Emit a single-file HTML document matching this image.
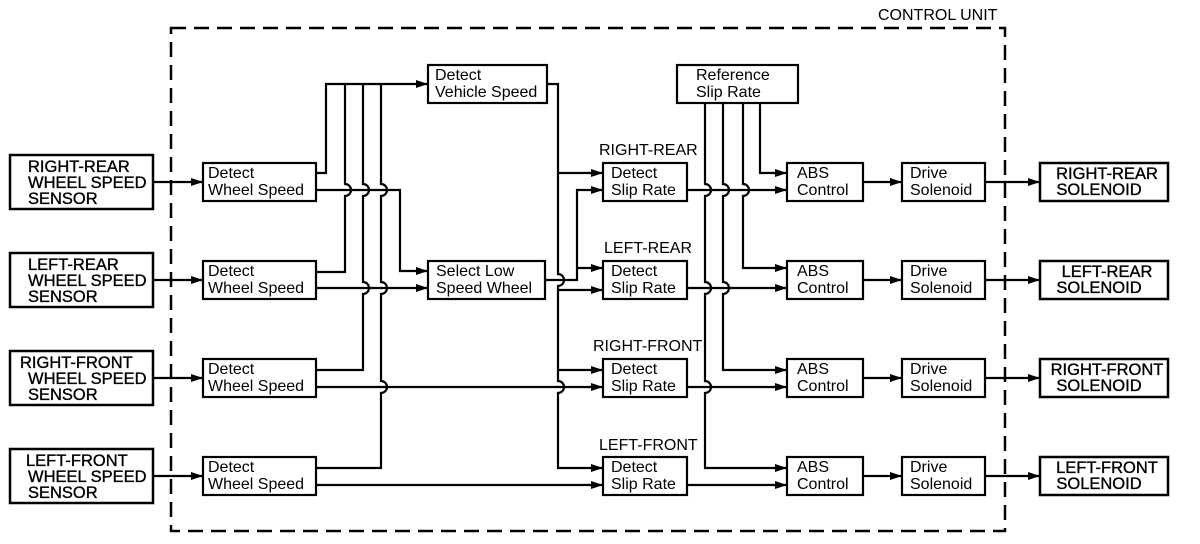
<!DOCTYPE html>
<html><head><meta charset="utf-8"><style>
html,body{margin:0;padding:0;background:#fff;}
svg{display:block;}
text{font-family:"Liberation Sans",sans-serif;font-size:16px;fill:#000;}
.s text{font-size:16.5px;stroke:#000;stroke-width:0.35;}
</style></head><body>
<svg width="1200" height="544" viewBox="0 0 1200 544" xmlns="http://www.w3.org/2000/svg">
<defs>
<marker id="a" markerWidth="12" markerHeight="8" refX="12" refY="4" orient="auto" markerUnits="userSpaceOnUse"><path d="M0,0 L12,4 L0,8 Z" fill="#000"/></marker>
</defs>
<g fill="none" stroke="#000" stroke-width="2.2">
<rect x="171" y="28" width="834" height="503" stroke-dasharray="15 8" stroke-width="2.5"/>
<rect x="10" y="155" width="143" height="54" stroke-width="2.5"/>
<rect x="10" y="253" width="143" height="54" stroke-width="2.5"/>
<rect x="10" y="351" width="143" height="54" stroke-width="2.5"/>
<rect x="10" y="449" width="143" height="54" stroke-width="2.5"/>
<rect x="203" y="163" width="113" height="38"/>
<rect x="203" y="261" width="113" height="38"/>
<rect x="203" y="359" width="113" height="38"/>
<rect x="203" y="457" width="113" height="38"/>
<rect x="428" y="65" width="119" height="38"/>
<rect x="428" y="261" width="117" height="38"/>
<rect x="677" y="65" width="121" height="38"/>
<rect x="603" y="163" width="84" height="38"/>
<rect x="603" y="261" width="84" height="38"/>
<rect x="603" y="359" width="84" height="38"/>
<rect x="603" y="457" width="84" height="38"/>
<rect x="787" y="163" width="76" height="38"/>
<rect x="787" y="261" width="76" height="38"/>
<rect x="787" y="359" width="76" height="38"/>
<rect x="787" y="457" width="76" height="38"/>
<rect x="902" y="163" width="83" height="38"/>
<rect x="902" y="261" width="83" height="38"/>
<rect x="902" y="359" width="83" height="38"/>
<rect x="902" y="457" width="83" height="38"/>
<rect x="1040" y="163" width="128" height="38" stroke-width="2.5"/>
<rect x="1040" y="261" width="128" height="38" stroke-width="2.5"/>
<rect x="1040" y="359" width="128" height="38" stroke-width="2.5"/>
<rect x="1040" y="457" width="128" height="38" stroke-width="2.5"/>

<path d="M153 182 H203" marker-end="url(#a)"/>
<path d="M153 280 H203" marker-end="url(#a)"/>
<path d="M153 378 H203" marker-end="url(#a)"/>
<path d="M153 476 H203" marker-end="url(#a)"/>

<path d="M316 173 H326 V84 H428" marker-end="url(#a)"/>
<path d="M316 272 H345 V196 A6 6 0 0 0 345 184 V84"/>
<path d="M316 370 H363 V294 A6 6 0 0 0 363 282 V196 A6 6 0 0 0 363 184 V84"/>
<path d="M316 468 H381 V393 A6 6 0 0 0 381 381 V294 A6 6 0 0 0 381 282 V196 A6 6 0 0 0 381 184 V84"/>
<path d="M316 190 H400 V271 H428" marker-end="url(#a)"/>
<path d="M316 288 H428" marker-end="url(#a)"/>
<path d="M316 387 H603" marker-end="url(#a)"/>
<path d="M316 485 H603" marker-end="url(#a)"/>

<path d="M547 84 H558 V274 A6 6 0 0 1 558 286 V381 A6 6 0 0 1 558 393 V468 H603" marker-end="url(#a)"/>
<path d="M558 173 H603" marker-end="url(#a)"/>
<path d="M558 290 H603" marker-end="url(#a)"/>
<path d="M558 370 H603" marker-end="url(#a)"/>
<path d="M545 280 H577 V190 H603" marker-end="url(#a)"/>
<path d="M577 268 H603" marker-end="url(#a)"/>

<path d="M705 103 V184 A6 6 0 0 1 705 196 V282 A6 6 0 0 1 705 294 V381 A6 6 0 0 1 705 393 V468 H787" marker-end="url(#a)"/>
<path d="M723 103 V184 A6 6 0 0 1 723 196 V282 A6 6 0 0 1 723 294 V370 H787" marker-end="url(#a)"/>
<path d="M743 103 V184 A6 6 0 0 1 743 196 V268 H787" marker-end="url(#a)"/>
<path d="M760 103 V173 H787" marker-end="url(#a)"/>
<path d="M687 190 H787" marker-end="url(#a)"/>
<path d="M687 288 H787" marker-end="url(#a)"/>
<path d="M687 387 H787" marker-end="url(#a)"/>
<path d="M687 485 H787" marker-end="url(#a)"/>

<path d="M863 182 H902" marker-end="url(#a)"/>
<path d="M863 280 H902" marker-end="url(#a)"/>
<path d="M863 378 H902" marker-end="url(#a)"/>
<path d="M863 476 H902" marker-end="url(#a)"/>
<path d="M985 182 H1040" marker-end="url(#a)"/>
<path d="M985 280 H1040" marker-end="url(#a)"/>
<path d="M985 378 H1040" marker-end="url(#a)"/>
<path d="M985 476 H1040" marker-end="url(#a)"/>
</g>

<text x="878" y="20">CONTROL UNIT</text>

<g class="s">
<text x="28" y="172">RIGHT-REAR</text><text x="28" y="188">WHEEL SPEED</text><text x="28" y="204">SENSOR</text>
<text x="28" y="270">LEFT-REAR</text><text x="28" y="286">WHEEL SPEED</text><text x="28" y="302">SENSOR</text>
<text x="20" y="368">RIGHT-FRONT</text><text x="28" y="384">WHEEL SPEED</text><text x="28" y="400">SENSOR</text>
<text x="26" y="466">LEFT-FRONT</text><text x="28" y="482">WHEEL SPEED</text><text x="28" y="498">SENSOR</text>
</g>

<g>
<text x="208" y="178">Detect</text><text x="208" y="195">Wheel Speed</text>
<text x="208" y="276">Detect</text><text x="208" y="293">Wheel Speed</text>
<text x="208" y="374">Detect</text><text x="208" y="391">Wheel Speed</text>
<text x="208" y="472">Detect</text><text x="208" y="489">Wheel Speed</text>
<text x="435" y="80">Detect</text><text x="435" y="97">Vehicle Speed</text>
<text x="436" y="276">Select Low</text><text x="436" y="293">Speed Wheel</text>
<text x="696" y="80">Reference</text><text x="696" y="97">Slip Rate</text>

<text x="599" y="155">RIGHT-REAR</text>
<text x="604" y="253">LEFT-REAR</text>
<text x="593" y="351">RIGHT-FRONT</text>
<text x="599" y="450">LEFT-FRONT</text>

<text x="611" y="178">Detect</text><text x="611" y="195">Slip Rate</text>
<text x="611" y="276">Detect</text><text x="611" y="293">Slip Rate</text>
<text x="611" y="374">Detect</text><text x="611" y="391">Slip Rate</text>
<text x="611" y="472">Detect</text><text x="611" y="489">Slip Rate</text>

<text x="797" y="178">ABS</text><text x="797" y="195">Control</text>
<text x="797" y="276">ABS</text><text x="797" y="293">Control</text>
<text x="797" y="374">ABS</text><text x="797" y="391">Control</text>
<text x="797" y="472">ABS</text><text x="797" y="489">Control</text>

<text x="910" y="178">Drive</text><text x="910" y="195">Solenoid</text>
<text x="910" y="276">Drive</text><text x="910" y="293">Solenoid</text>
<text x="910" y="374">Drive</text><text x="910" y="391">Solenoid</text>
<text x="910" y="472">Drive</text><text x="910" y="489">Solenoid</text>
</g>
<g class="s" text-anchor="middle">
<text x="1107" y="179">RIGHT-REAR</text><text x="1099" y="195">SOLENOID</text>
<text x="1107" y="277">LEFT-REAR</text><text x="1099" y="293">SOLENOID</text>
<text x="1107" y="375">RIGHT-FRONT</text><text x="1099" y="391">SOLENOID</text>
<text x="1107" y="473">LEFT-FRONT</text><text x="1099" y="489">SOLENOID</text>
</g>
</svg>
</body></html>
